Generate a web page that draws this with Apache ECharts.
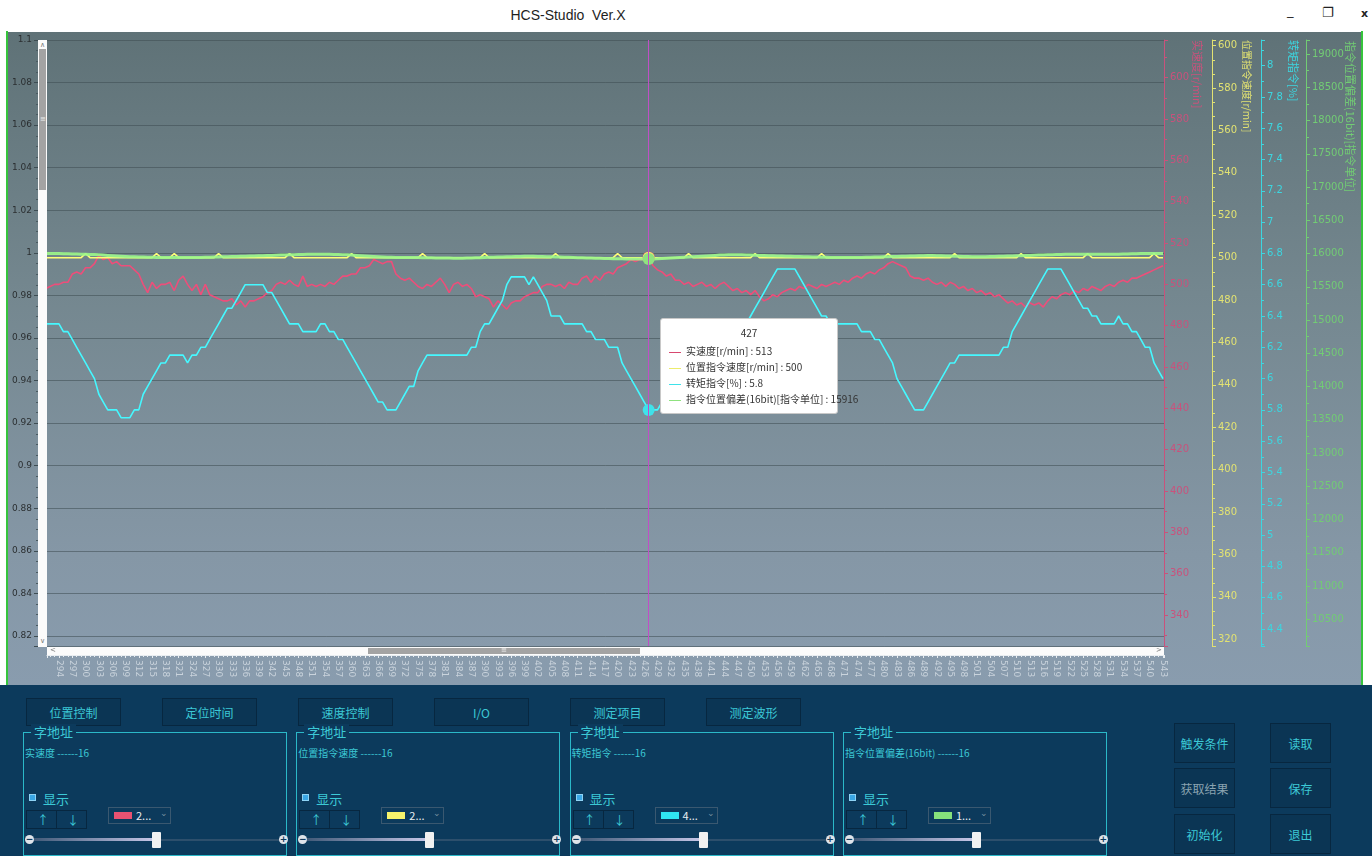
<!DOCTYPE html>
<html>
<head>
<meta charset="utf-8">
<script src="https://cdn.jsdelivr.net/npm/echarts@6.0.0/dist/echarts.min.js"></script>
<style>
  html, body { margin: 0; padding: 0; }
  body { width: 1372px; height: 856px; overflow: hidden; position: relative; background: #ffffff;
         font-family: "Noto Sans CJK SC", "Noto Sans", sans-serif; }
  #titlebar { position: absolute; left: 0; top: 0; width: 1372px; height: 31px; background: #ffffff; }
  #titlebar .title { position: absolute; left: 0; width: 1136px; top: 7px; text-align: center; font-size: 14px; color: #1e1e1e;
                     font-family: "Liberation Sans", "Noto Sans", sans-serif; }
  #titlebar .ctl { position: absolute; top: 5px; font-size: 13px; color: #222; font-family: "DejaVu Sans", sans-serif; }
  #panel { position: absolute; left: 8px; top: 32px; width: 1354px; height: 653px;
           background: linear-gradient(to bottom, #5f7277 0%, #74878f 40%, #8597a6 80%, #899cae 100%); }
  #edgeL { position: absolute; left: 6px; top: 31px; width: 2px; height: 654px; background: #36c43c; }
  #edgeR { position: absolute; left: 1361px; top: 31px; width: 2px; height: 654px; background: #36c43c; }
  #chart { position: absolute; left: 0; top: 0; width: 1372px; height: 856px; }
  .vscroll { position: absolute; left: 38px; top: 40px; width: 9px; height: 607px; background: #fbfbfb; }
  .vscroll .thumb { position: absolute; left: 1px; top: 9px; width: 7px; height: 141px; background: #a3a3a3; }
  .hscroll { position: absolute; left: 47px; top: 647px; width: 1117px; height: 8px; background: #fbfbfb; }
  .hscroll .thumb { position: absolute; left: 321px; top: 1px; width: 272px; height: 6px; background: #a3a3a3; }
  .arrow { position: absolute; font-size: 7px; color: #777; font-family: "DejaVu Sans", sans-serif; line-height: 7px; }
  #bottom { position: absolute; left: 0; top: 685px; width: 1372px; height: 171px; background: #0c3a5c; }
  .btn { position: absolute; box-sizing: border-box; border: 1px solid #072740; background: #0b3554;
         color: #3cc9d6; font-size: 12px; display: flex; align-items: center; justify-content: center; }
  .grp { position: absolute; box-sizing: border-box; top: 47px; width: 264px; height: 124px; border: 1px solid #2bb8c8; }
  .grp .gt { position: absolute; left: 7px; top: -9px; padding: 0 3px; background: #0c3a5c; color: #3cc9d6; font-size: 13px; line-height: 16px; }
  .grp .gs { position: absolute; left: 1px; top: 12px; color: #3cc9d6; font-size: 10px; }
  .grp .cb { position: absolute; left: 5px; top: 61px; width: 7px; height: 7px; background: #3aa7e6; border: 1px solid #8fd3f5; box-sizing: border-box; }
  .grp .cl { position: absolute; left: 19px; top: 56px; color: #3cc9d6; font-size: 13px; }
  .grp .ud { position: absolute; left: 2px; top: 77px; width: 61px; height: 19px; box-sizing: border-box; border: 1px solid #072740; }
  .grp .ud .d { position: absolute; left: 29px; top: 0; width: 1px; height: 17px; background: #072740; }
  .grp .ud span { position: absolute; top: 0px; color: #3cc9d6; font-size: 12px; }
  .grp .combo { position: absolute; left: 84px; top: 74px; width: 63px; height: 17px; box-sizing: border-box; border: 1px solid #3a5870; }
  .grp .combo .sw { position: absolute; left: 5px; top: 4px; width: 18px; height: 7px; }
  .grp .combo .tx { position: absolute; left: 27px; top: -1px; color: #e8eef2; font-size: 11px; }
  .grp .combo .dd { position: absolute; left: 51px; top: -2px; color: #7890a0; font-size: 9px; }
  .grp .trk { position: absolute; left: 9px; top: 106px; width: 248px; height: 2px; background: #2d4f6c; }
  .grp .trk .fill { position: absolute; left: 0; top: -1px; width: 124px; height: 3px; background: linear-gradient(to right, #415a78, #c9c9ea); }
  .grp .thumb { position: absolute; left: 128px; top: 99px; width: 9px; height: 16px; background: #f1f1f1; border-radius: 1px; }
  .grp .pm { position: absolute; top: 102px; width: 9px; height: 9px; border-radius: 50%; background: #dfe4ea; color: #0c3a5c;
             font-size: 9px; line-height: 9px; text-align: center; font-weight: bold; font-family: "DejaVu Sans", sans-serif; }
</style>
</head>
<body>
<div id="titlebar">
  <div class="title">HCS-Studio&nbsp;&nbsp;Ver.X</div>
  <div class="ctl" style="left:1287px;top:3px;">_</div>
  <div class="ctl" style="left:1322px;">&#x2750;</div>
  <div class="ctl" style="left:1361px;font-weight:bold;font-size:11px;top:7px;">x</div>
</div>
<div id="panel"></div>
<div id="edgeL"></div>
<div id="edgeR"></div>
<div id="chart"></div>
<div class="vscroll"><div class="arrow" style="left:2px;top:2px;">&#x2227;</div><div class="thumb"></div>
  <div class="arrow" style="left:2px;top:76px;color:#eee;">&#x2261;</div><div class="arrow" style="left:2px;top:598px;">&#x2228;</div></div>
<div class="hscroll"><div class="arrow" style="left:3px;top:0px;">&lt;</div><div class="thumb"></div>
  <div class="arrow" style="left:454px;top:0px;color:#eee;">&#x2261;</div><div class="arrow" style="left:1109px;top:0px;">&gt;</div></div>
<div id="bottom"></div>

<script>
// Sample numbers on the time axis
const samples = [];
for (let s = 291; s <= 543; s++) samples.push(s);

// 实速度 [r/min]
const actualSpeed = [
  498, 499, 500, 500, 501, 501, 505, 506, 505, 508,   // 291-300
  508, 510, 514, 512, 513, 510, 511, 509, 509, 509,   // 301-310
  507, 505, 500, 496, 501, 498, 500, 500, 501, 497,   // 311-320
  502, 504, 500, 497, 500, 495, 500, 495, 494, 493,   // 321-330
  492, 492, 493, 490, 492, 489, 492, 492, 493, 494,   // 331-340
  496, 497, 500, 501, 500, 502, 500, 499, 504, 499,   // 341-350
  500, 499, 500, 499, 501, 500, 502, 504, 504, 505,   // 351-360
  505, 508, 508, 509, 512, 511, 510, 511, 511, 505,   // 361-370
  503, 502, 503, 501, 499, 498, 500, 499, 501, 503,   // 371-380
  500, 496, 500, 501, 499, 500, 498, 494, 495, 494,   // 381-390
  493, 489, 492, 490, 488, 491, 492, 492, 494, 495,   // 391-400
  496, 496, 499, 500, 500, 499, 500, 498, 501, 500,   // 401-410
  500, 503, 504, 501, 504, 502, 505, 506, 505, 508,   // 411-420
  509, 510, 512, 511, 512, 512, 513, 509, 507, 506,   // 421-430
  504, 505, 502, 502, 500, 501, 499, 500, 501, 499,   // 431-440
  500, 498, 500, 501, 499, 497, 498, 496, 497, 495,   // 441-450
  497, 494, 492, 493, 495, 494, 496, 497, 498, 497,   // 451-460
  499, 498, 500, 499, 498, 500, 499, 500, 501, 500,   // 461-470
  502, 501, 503, 504, 503, 505, 506, 505, 507, 508,   // 471-480
  510, 511, 510, 509, 508, 504, 503, 503, 502, 503,   // 481-490
  501, 500, 501, 499, 501, 500, 498, 499, 497, 498,   // 491-500
  496, 497, 495, 496, 494, 495, 493, 491, 492, 490,   // 501-510
  491, 489, 491, 490, 491, 489, 492, 494, 493, 495,   // 511-520
  496, 495, 497, 496, 498, 497, 499, 498, 497, 499,   // 521-530
  500, 499, 501, 502, 501, 503, 503, 504, 505, 506,   // 531-540
  507, 508, 509                                       // 541-543
];

// 位置指令速度 [r/min]
const commandSpeed = [
  500, 500, 500, 500, 500, 500, 500, 500, 500, 502,   // 291-300
  500, 500, 500, 500, 500, 500, 500, 500, 500, 500,   // 301-310
  500, 500, 500, 500, 500, 502, 500, 500, 500, 502,   // 311-320
  500, 500, 500, 500, 500, 500, 500, 500, 500, 502,   // 321-330
  500, 500, 500, 500, 500, 500, 500, 500, 500, 500,   // 331-340
  500, 500, 500, 500, 500, 502, 500, 500, 500, 500,   // 341-350
  500, 500, 500, 500, 500, 500, 500, 500, 500, 502,   // 351-360
  500, 500, 500, 500, 500, 500, 500, 500, 500, 500,   // 361-370
  500, 500, 500, 500, 500, 502, 500, 500, 500, 500,   // 371-380
  500, 500, 500, 500, 500, 500, 500, 500, 500, 502,   // 381-390
  500, 500, 500, 500, 500, 500, 500, 500, 500, 500,   // 391-400
  500, 500, 500, 500, 500, 502, 500, 500, 500, 500,   // 401-410
  500, 500, 500, 500, 500, 500, 500, 500, 500, 502,   // 411-420
  500, 500, 500, 500, 500, 500, 500, 500, 500, 500,   // 421-430
  500, 500, 500, 500, 500, 502, 500, 500, 500, 500,   // 431-440
  500, 500, 500, 500, 500, 500, 500, 500, 500, 500,   // 441-450
  502, 500, 500, 500, 500, 500, 500, 500, 500, 500,   // 451-460
  500, 500, 500, 500, 500, 502, 500, 500, 500, 500,   // 461-470
  500, 500, 500, 500, 500, 500, 500, 500, 500, 500,   // 471-480
  502, 500, 500, 500, 500, 500, 500, 500, 500, 500,   // 481-490
  500, 500, 500, 500, 500, 502, 500, 500, 500, 500,   // 491-500
  500, 500, 500, 500, 500, 500, 500, 500, 500, 500,   // 501-510
  502, 500, 500, 500, 500, 500, 500, 500, 500, 500,   // 511-520
  500, 500, 500, 500, 500, 502, 500, 500, 500, 500,   // 521-530
  500, 500, 500, 500, 500, 500, 500, 500, 500, 500,   // 531-540
  502, 500, 500                                       // 541-543
];

// 转矩指令 [%]
const torqueCommand = [
  6.35, 6.35, 6.35, 6.35, 6.3, 6.3, 6.25, 6.2, 6.15, 6.1,       // 291-300
  6.05, 6.0, 5.9, 5.85, 5.8, 5.8, 5.8, 5.75, 5.75, 5.75,        // 301-310
  5.8, 5.8, 5.9, 5.95, 6.0, 6.05, 6.1, 6.1, 6.15, 6.15,         // 311-320
  6.15, 6.15, 6.1, 6.15, 6.15, 6.2, 6.2, 6.25, 6.3, 6.35,       // 321-330
  6.4, 6.45, 6.45, 6.5, 6.55, 6.6, 6.6, 6.6, 6.6, 6.6,          // 331-340
  6.55, 6.55, 6.5, 6.45, 6.4, 6.35, 6.35, 6.35, 6.3, 6.3,       // 341-350
  6.3, 6.3, 6.35, 6.35, 6.3, 6.3, 6.25, 6.25, 6.2, 6.15,        // 351-360
  6.1, 6.05, 6.0, 5.95, 5.9, 5.85, 5.85, 5.8, 5.8, 5.8,         // 361-370
  5.85, 5.9, 5.95, 5.95, 6.05, 6.1, 6.15, 6.15, 6.15, 6.15,     // 371-380
  6.15, 6.15, 6.15, 6.15, 6.15, 6.15, 6.2, 6.2, 6.3, 6.35,      // 381-390
  6.35, 6.4, 6.45, 6.5, 6.6, 6.65, 6.65, 6.65, 6.65, 6.6,       // 391-400
  6.65, 6.6, 6.55, 6.5, 6.4, 6.4, 6.4, 6.35, 6.35, 6.35,        // 401-410
  6.35, 6.35, 6.3, 6.3, 6.25, 6.25, 6.25, 6.2, 6.2, 6.2,        // 411-420
  6.1, 6.05, 6.0, 5.95, 5.9, 5.85, 5.8, 5.8, 5.8, 5.85,         // 421-430
  5.9, 5.95, 5.95, 6.05, 6.1, 6.15, 6.15, 6.15, 6.15, 6.15,     // 431-440
  6.15, 6.15, 6.15, 6.15, 6.15, 6.2, 6.2, 6.3, 6.35, 6.4,       // 441-450
  6.45, 6.5, 6.55, 6.6, 6.65, 6.7, 6.7, 6.7, 6.7, 6.7,          // 451-460
  6.65, 6.6, 6.55, 6.5, 6.45, 6.4, 6.4, 6.35, 6.35, 6.35,       // 461-470
  6.35, 6.35, 6.35, 6.35, 6.3, 6.3, 6.3, 6.25, 6.25, 6.2,       // 471-480
  6.15, 6.1, 6.0, 5.95, 5.9, 5.85, 5.8, 5.8, 5.8, 5.85,         // 481-490
  5.9, 5.95, 6.0, 6.05, 6.1, 6.1, 6.15, 6.15, 6.15, 6.15,       // 491-500
  6.15, 6.15, 6.15, 6.15, 6.15, 6.15, 6.2, 6.2, 6.3, 6.35,      // 501-510
  6.4, 6.45, 6.5, 6.55, 6.6, 6.65, 6.7, 6.7, 6.7, 6.7,          // 511-520
  6.65, 6.6, 6.55, 6.5, 6.45, 6.45, 6.4, 6.4, 6.35, 6.35,       // 521-530
  6.35, 6.35, 6.4, 6.35, 6.35, 6.3, 6.3, 6.25, 6.2, 6.2,        // 531-540
  6.1, 6.05, 6.0                                                // 541-543
];

// 指令位置偏差(16bit) [指令单位]
const positionError = [
  16000, 16000, 16000, 16000, 15998, 15996, 15994, 15992, 15990, 15988,   // 291-300
  15986, 15984, 15980, 15976, 15972, 15968, 15964, 15960, 15956, 15952,   // 301-310
  15950, 15948, 15946, 15944, 15942, 15940, 15940, 15940, 15940, 15940,   // 311-320
  15940, 15940, 15940, 15940, 15940, 15940, 15942, 15944, 15946, 15948,   // 321-330
  15950, 15952, 15954, 15956, 15958, 15960, 15962, 15964, 15966, 15968,   // 331-340
  15970, 15972, 15974, 15976, 15978, 15980, 15982, 15984, 15986, 15988,   // 341-350
  15990, 15990, 15990, 15990, 15988, 15986, 15984, 15982, 15980, 15976,   // 351-360
  15972, 15968, 15964, 15960, 15956, 15952, 15948, 15944, 15942, 15940,   // 361-370
  15940, 15940, 15940, 15940, 15940, 15938, 15936, 15936, 15934, 15934,   // 371-380
  15932, 15932, 15930, 15930, 15930, 15932, 15934, 15936, 15938, 15940,   // 381-390
  15942, 15944, 15946, 15948, 15950, 15952, 15954, 15956, 15958, 15960,   // 391-400
  15958, 15956, 15954, 15952, 15950, 15948, 15946, 15944, 15942, 15940,   // 401-410
  15938, 15936, 15934, 15932, 15930, 15928, 15926, 15924, 15922, 15920,   // 411-420
  15920, 15918, 15918, 15917, 15917, 15916, 15916, 15918, 15920, 15924,   // 421-430
  15928, 15932, 15936, 15940, 15944, 15948, 15952, 15956, 15960, 15964,   // 431-440
  15968, 15972, 15976, 15978, 15980, 15980, 15980, 15980, 15978, 15976,   // 441-450
  15974, 15972, 15970, 15968, 15966, 15964, 15962, 15960, 15958, 15956,   // 451-460
  15954, 15952, 15950, 15948, 15946, 15944, 15942, 15940, 15940, 15940,   // 461-470
  15940, 15940, 15940, 15940, 15940, 15942, 15944, 15946, 15948, 15950,   // 471-480
  15952, 15954, 15956, 15958, 15960, 15962, 15964, 15966, 15968, 15970,   // 481-490
  15970, 15968, 15966, 15964, 15962, 15960, 15958, 15956, 15954, 15952,   // 491-500
  15950, 15950, 15952, 15954, 15956, 15958, 15960, 15962, 15964, 15966,   // 501-510
  15968, 15970, 15972, 15974, 15976, 15978, 15980, 15982, 15984, 15986,   // 511-520
  15988, 15990, 15990, 15990, 15990, 15990, 15990, 15990, 15990, 15990,   // 521-530
  15990, 15990, 15990, 15992, 15994, 15996, 15998, 16000, 16000, 16000,   // 531-540
  16000, 16000, 16000                                                      // 541-543
];

const seriesNames = ['实速度[r/min]', '位置指令速度[r/min]', '转矩指令[%]', '指令位置偏差(16bit)[指令单位]'];
const seriesColors = ['#d8476f', '#ecec6c', '#3fe2ea', '#8fe27f'];
const axisNameColors = ['#c9527c', '#e2e272', '#3cd6e0', '#72cc74'];
const hoverSample = 427;

const pairs = arr => samples.map((s, i) => [s, arr[i]]);

// Labels only at whole multiples of the step; the fractional ends stay blank
function stepLabel(step, digits) {
  return function (v) {
    const k = v / step;
    if (Math.abs(k - Math.round(k)) > 1e-6) return '';
    return String(+v.toFixed(digits));
  };
}

function rightAxis(i, offset, min, max, step, digits, minorSplit) {
  const c = axisNameColors[i];
  return {
    type: 'value', position: 'right', offset: offset, min: min, max: max,
    minInterval: step, maxInterval: step, splitNumber: 14,
    axisLine: { show: true, lineStyle: { color: c, width: 1 } },
    axisTick: { show: true, length: 4, inside: false, lineStyle: { color: c } },
    minorTick: { show: true, splitNumber: minorSplit, length: 3, lineStyle: { color: c } },
    axisLabel: { color: c, fontSize: 10, margin: 6, fontFamily: 'DejaVu Sans', formatter: stepLabel(step, digits),
                 showMinLabel: true, showMaxLabel: true },
    splitLine: { show: false }
  };
}

const chart = echarts.init(document.getElementById('chart'), null, { renderer: 'canvas' });

const lineSeries = [actualSpeed, commandSpeed, torqueCommand, positionError].map((arr, i) => ({
  name: seriesNames[i],
  type: 'line',
  yAxisIndex: i + 1,
  data: pairs(arr),
  showSymbol: false,
  symbol: 'circle',
  symbolSize: 12,
  lineStyle: { color: seriesColors[i], width: i === 3 ? 3 : 1.6, opacity: i === 3 ? 0.9 : 1 },
  itemStyle: { color: seriesColors[i] },
  emphasis: { disabled: false, scale: false },
  animation: false
}));

function tipHtml(params) {
  const rows = params.map(p => {
    const v = p.value[1];
    return '<div style="height:16px;line-height:16px;white-space:nowrap">' +
      '<span style="display:inline-block;width:12px;height:1px;background:' + seriesColors[p.seriesIndex] +
      ';vertical-align:middle;margin:0 5px 0 0"></span>' + seriesNames[p.seriesIndex] + ' : ' + v + '</div>';
  }).join('');
  return '<div style="text-align:center;height:18px;line-height:16px">' + params[0].value[0] + '</div>' + rows;
}

chart.setOption({
  animation: false,
  backgroundColor: 'transparent',
  textStyle: { fontFamily: 'Noto Sans CJK SC' },
  grid: { left: 47, right: 208, top: 40, bottom: 210, containLabel: false },
  tooltip: {
    show: true,
    trigger: 'axis',
    alwaysShowContent: true,
    transitionDuration: 0,
    backgroundColor: '#ffffff',
    borderColor: '#c8c8c8',
    borderWidth: 1,
    padding: [6, 8, 6, 8],
    textStyle: { color: '#333', fontSize: 10, fontFamily: 'Noto Sans CJK SC' },
    extraCssText: 'box-shadow:none;border-radius:3px;width:160px;',
    position: function (pt) { return [pt[0] + 11, 318]; },
    axisPointer: { type: 'line', snap: true, lineStyle: { color: '#c04fc6', width: 1, type: 'solid' }, label: { show: false } },
    formatter: tipHtml
  },
  xAxis: {
    type: 'value', min: 291.3, max: 543.23, minInterval: 3, maxInterval: 3, splitNumber: 84,
    offset: 9,
    axisLine: { show: true, lineStyle: { color: '#e8edf1', width: 1 } },
    axisTick: { show: true, length: 3, lineStyle: { color: '#e8edf1' } },
    minorTick: { show: true, splitNumber: 3, length: 2, lineStyle: { color: '#e8edf1' } },
    axisLabel: { rotate: -90, color: '#c9d3dc', fontSize: 9, margin: 5, fontFamily: 'DejaVu Sans',
                 formatter: stepLabel(3, 0), hideOverlap: false, interval: 0 },
    splitLine: { show: false }
  },
  yAxis: [
    {
      type: 'value', position: 'left', offset: 9, min: 0.81531, max: 1.1, minInterval: 0.02, maxInterval: 0.02, splitNumber: 14,
      axisLine: { show: true, lineStyle: { color: '#55666d' } },
      axisTick: { show: true, length: 4, lineStyle: { color: '#3d4c52' } },
      minorTick: { show: true, splitNumber: 4, length: 2, lineStyle: { color: '#4a5a60' } },
      axisLabel: { color: '#2b2f31', fontSize: 9, margin: 6, fontFamily: 'DejaVu Sans', formatter: stepLabel(0.02, 2) },
      splitLine: { show: true, lineStyle: { color: 'rgba(62,76,82,0.55)', width: 1 } }
    },
    rightAxis(0, 0, 325.0, 618.24, 20, 0, 2),
    rightAxis(1, 48, 316.84, 602.69, 20, 0, 3),
    rightAxis(2, 97, 4.291, 8.164, 0.2, 1, 2),
    rightAxis(3, 142, 10098.5, 19210.5, 500, 0, 2)
  ],
  graphic: [
    { type: 'text', x: 1197, y: 40, rotation: -Math.PI / 2, silent: true,
      style: { text: seriesNames[0], fill: axisNameColors[0], font: '11px "Noto Sans CJK SC"', align: 'left', verticalAlign: 'middle' } },
    { type: 'text', x: 1247, y: 40, rotation: -Math.PI / 2, silent: true,
      style: { text: seriesNames[1], fill: axisNameColors[1], font: '10px "Noto Sans CJK SC"', align: 'left', verticalAlign: 'middle' } },
    { type: 'text', x: 1293, y: 40, rotation: -Math.PI / 2, silent: true,
      style: { text: seriesNames[2], fill: axisNameColors[2], font: '11px "Noto Sans CJK SC"', align: 'left', verticalAlign: 'middle' } },
    { type: 'text', x: 1350, y: 41, rotation: -Math.PI / 2, silent: true,
      style: { text: seriesNames[3], fill: axisNameColors[3], font: '11px "Noto Sans CJK SC"', align: 'left', verticalAlign: 'middle' } }
  ],
  series: lineSeries
});

chart.dispatchAction({ type: 'showTip', seriesIndex: 2, dataIndex: samples.indexOf(hoverSample) });

// Control panel under the plot
const bottom = document.getElementById('bottom');
const topButtons = ['位置控制', '定位时间', '速度控制', 'I/O', '测定项目', '测定波形'];
topButtons.forEach((t, i) => {
  const b = document.createElement('div');
  b.className = 'btn';
  b.style.cssText = 'left:' + (26 + i * 136) + 'px;top:13px;width:95px;height:28px;';
  b.textContent = t;
  bottom.appendChild(b);
});
const groups = [
  { label: '实速度 ------16', color: '#e85272', code: '2...' },
  { label: '位置指令速度 ------16', color: '#f6f36c', code: '2...' },
  { label: '转矩指令 ------16', color: '#2fe6f2', code: '4...' },
  { label: '指令位置偏差(16bit) ------16', color: '#86e27c', code: '1...' }
];
groups.forEach((g, i) => {
  const d = document.createElement('div');
  d.className = 'grp';
  d.style.left = (23 + i * 273.3) + 'px';
  d.innerHTML =
    '<div class="gt">字地址</div>' +
    '<div class="gs">' + g.label + '</div>' +
    '<div class="cb"></div><div class="cl">显示</div>' +
    '<div class="ud"><div class="d"></div><span style="left:10px">&#8593;</span><span style="left:40px">&#8595;</span></div>' +
    '<div class="combo"><div class="sw" style="background:' + g.color + '"></div><div class="tx">' + g.code + '</div><div class="dd">&#8964;</div></div>' +
    '<div class="trk"><div class="fill"></div></div>' +
    '<div class="pm" style="left:1px">&#8722;</div><div class="pm" style="left:255px">+</div>' +
    '<div class="thumb"></div>';
  bottom.appendChild(d);
});
const sideButtons = [
  ['触发条件', 1174, 38, '#3cc9d6'], ['读取', 1270, 38, '#3cc9d6'],
  ['获取结果', 1174, 83, '#8aa3b0'], ['保存', 1270, 83, '#3cc9d6'],
  ['初始化', 1174, 129, '#3cc9d6'], ['退出', 1270, 129, '#3cc9d6']
];
sideButtons.forEach(([t, x, y, c]) => {
  const b = document.createElement('div');
  b.className = 'btn';
  b.style.cssText = 'left:' + x + 'px;top:' + y + 'px;width:61px;height:40px;color:' + c + ';';
  b.textContent = t;
  bottom.appendChild(b);
});
</script>
</body>
</html>
